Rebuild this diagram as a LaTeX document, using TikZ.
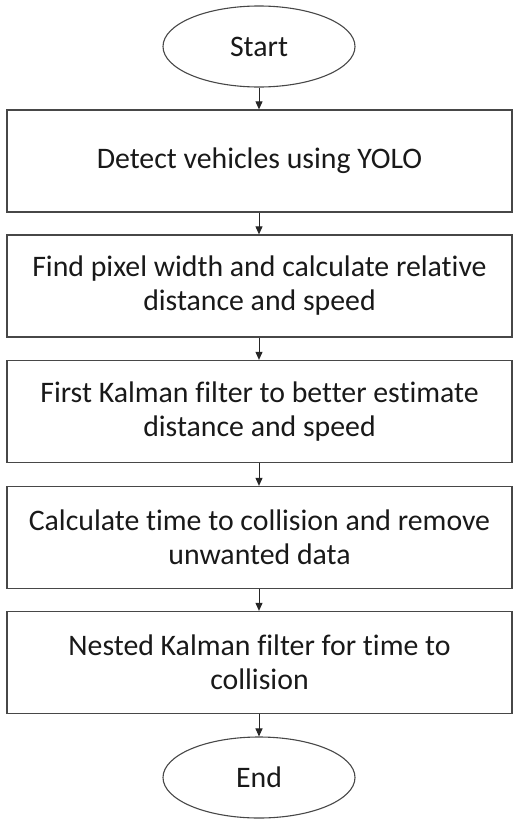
\documentclass[tikz,border=0pt]{standalone}
\usepackage{fontspec}
\setmainfont{Carlito}[Ligatures=CommonOff]
\usetikzlibrary{arrows.meta,shapes.geometric}
\begin{document}
\begin{tikzpicture}[x=1bp,y=-1bp,
  every node/.style={font=\fontsize{29.8bp}{34bp}\selectfont, text=black!90},
  stepbox/.style={draw=black!72, line width=1.3bp, rectangle, minimum width=505bp, minimum height=102bp, inner sep=0pt, align=center},
  term/.style={draw=black!72, line width=1.1bp, ellipse, minimum width=192bp, minimum height=81bp, inner sep=0pt},
  flow/.style={draw=black!85, line width=1bp, -{Triangle[length=8bp,width=7bp]}}]
\useasboundingbox (0,0) rectangle (520,825);
\node[term] (start) at (259,46.5) {Start};
\node[stepbox] (b1) at (259.5,161) {Detect vehicles using YOLO};
\node[stepbox] (b2) at (259.5,286) {Find pixel width and calculate relative\\distance and speed};
\node[stepbox] (b3) at (259.5,411.5) {First Kalman filter to better estimate\\distance and speed};
\node[stepbox] (b4) at (259.5,537.5) {Calculate time to collision and remove\\unwanted data};
\node[stepbox] (b5) at (259.5,662.5) {Nested Kalman filter for time to\\collision};
\node[term] (end) at (259,777.5) {End};
\draw[flow] (start) -- (start |- b1.north);
\draw[flow] (b1.south -| start) -- (start |- b2.north);
\draw[flow] (b2.south -| start) -- (start |- b3.north);
\draw[flow] (b3.south -| start) -- (start |- b4.north);
\draw[flow] (b4.south -| start) -- (start |- b5.north);
\draw[flow] (b5.south -| start) -- (end);
\end{tikzpicture}
\end{document}
